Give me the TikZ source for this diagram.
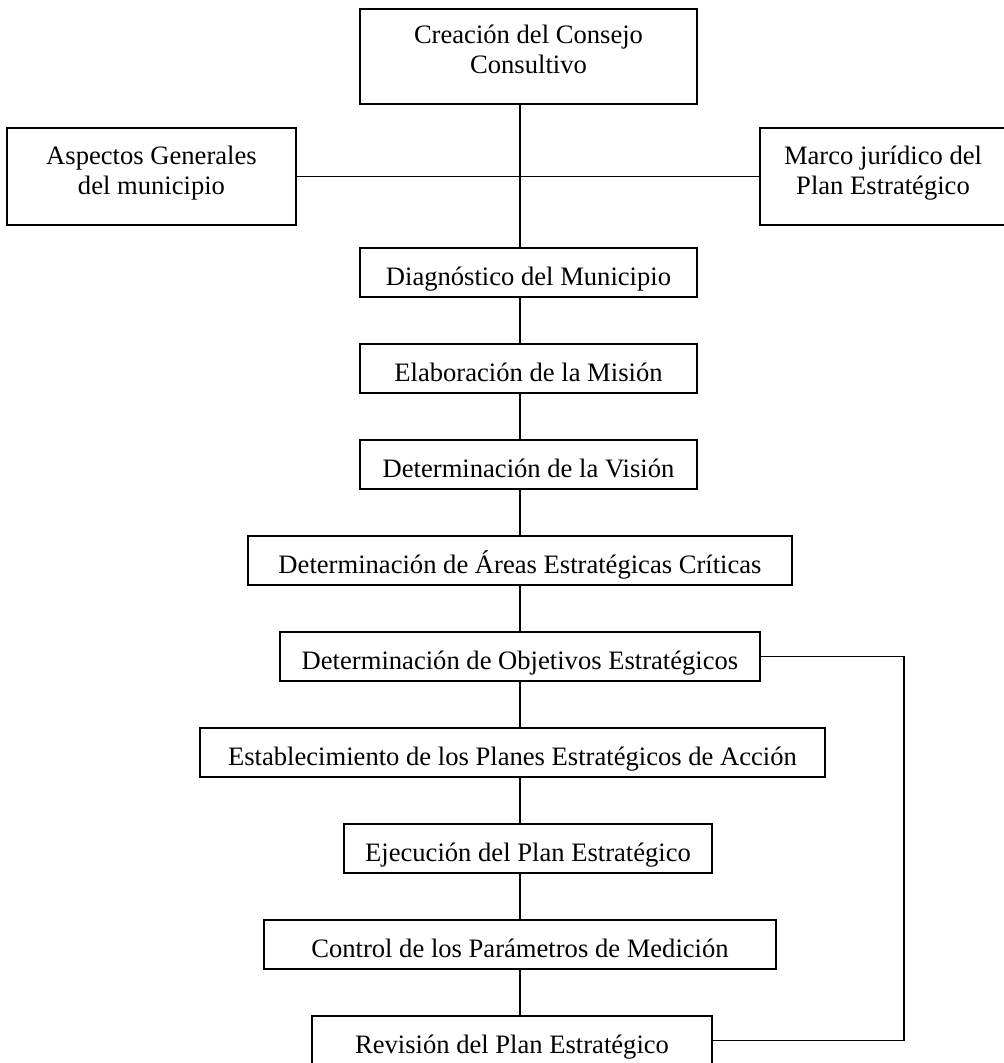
\documentclass[tikz,border=0pt]{standalone}
\usepackage{fontspec}
\setmainfont{Liberation Serif}
\usepackage{tikz}
\usetikzlibrary{positioning, calc}
\tikzset{
  % Process boxes
  procbox/.style={
    rectangle, draw=black, line width=1.9pt, inner sep=0pt,
    minimum height=49pt, text height=37pt, text depth=12pt,
    font=\fontsize{26.6}{29.5}\selectfont, align=center,
  },
  % Two-line boxes at the top
  tallbox/.style={
    procbox, minimum height=#1,
  },
  tallbox/.default={95pt},
  % Connecting lines
  myline/.style={line width=1.5pt, black},
}

\begin{document}
\begin{tikzpicture}[x=1pt, y=-1pt]
  \useasboundingbox (0,0) rectangle (1004,1063);
  % Main axis of the flow
  \coordinate (axis) at (520,0);
  \coordinate (back) at (904,0);

  % Nodes
  \node[tallbox, minimum width=337pt, text height=64pt, text depth=31pt] (consejo) at (528.5,56.5) {
    Creación del Consejo\\Consultivo
  };
  \node[tallbox=97pt, minimum width=289pt, text height=66pt, text depth=31pt] (aspectos) at (151.5,176.5) {
    Aspectos Generales\\del municipio
  };
  \node[tallbox=97pt, minimum width=246pt, text height=66pt, text depth=31pt] (marco) at (883,176.5) {
    Marco jurídico del\\Plan Estratégico
  };

  \node[procbox, minimum width=337pt] (diag) at (528.5,272.5) {Diagnóstico del Municipio};
  \node[procbox, minimum width=337pt] (mision) at (528.5,368.5) {Elaboración de la Misión};
  \node[procbox, minimum width=337pt] (vision) at (528.5,464.5) {Determinación de la Visión};
  \node[procbox, minimum width=544pt] (areas) at (520,560.5) {Determinación de Áreas Estratégicas Críticas};
  \node[procbox, minimum width=480pt] (objetivos) at (520,656.5) {Determinación de Objetivos Estratégicos};
  \node[procbox, minimum width=625pt] (planes) at (512.5,752.5) {Establecimiento de los Planes Estratégicos de Acción};
  \node[procbox, minimum width=368pt] (ejecucion) at (528,848.5) {Ejecución del Plan Estratégico};
  \node[procbox, minimum width=512pt] (control) at (520,944.5) {Control de los Parámetros de Medición};
  \node[procbox, minimum width=400pt] (revision) at (512,1040.5) {Revisión del Plan Estratégico};

  % Lines
  \draw[myline] (consejo.south -| axis) -- (diag.north -| axis);
  \draw[myline] (aspectos.east) -- (marco.west);
  \draw[myline] (diag.south -| axis) -- (mision.north -| axis);
  \draw[myline] (mision.south -| axis) -- (vision.north -| axis);
  \draw[myline] (vision.south -| axis) -- (areas.north -| axis);
  \draw[myline] (areas.south -| axis) -- (objetivos.north -| axis);
  \draw[myline] (objetivos.south -| axis) -- (planes.north -| axis);
  \draw[myline] (planes.south -| axis) -- (ejecucion.north -| axis);
  \draw[myline] (ejecucion.south -| axis) -- (control.north -| axis);
  \draw[myline] (control.south -| axis) -- (revision.north -| axis);

  % Feedback from revision back to objectives
  \draw[myline] (objetivos.east) -- (objetivos.east -| back) |- (revision.east);
\end{tikzpicture}
\end{document}
